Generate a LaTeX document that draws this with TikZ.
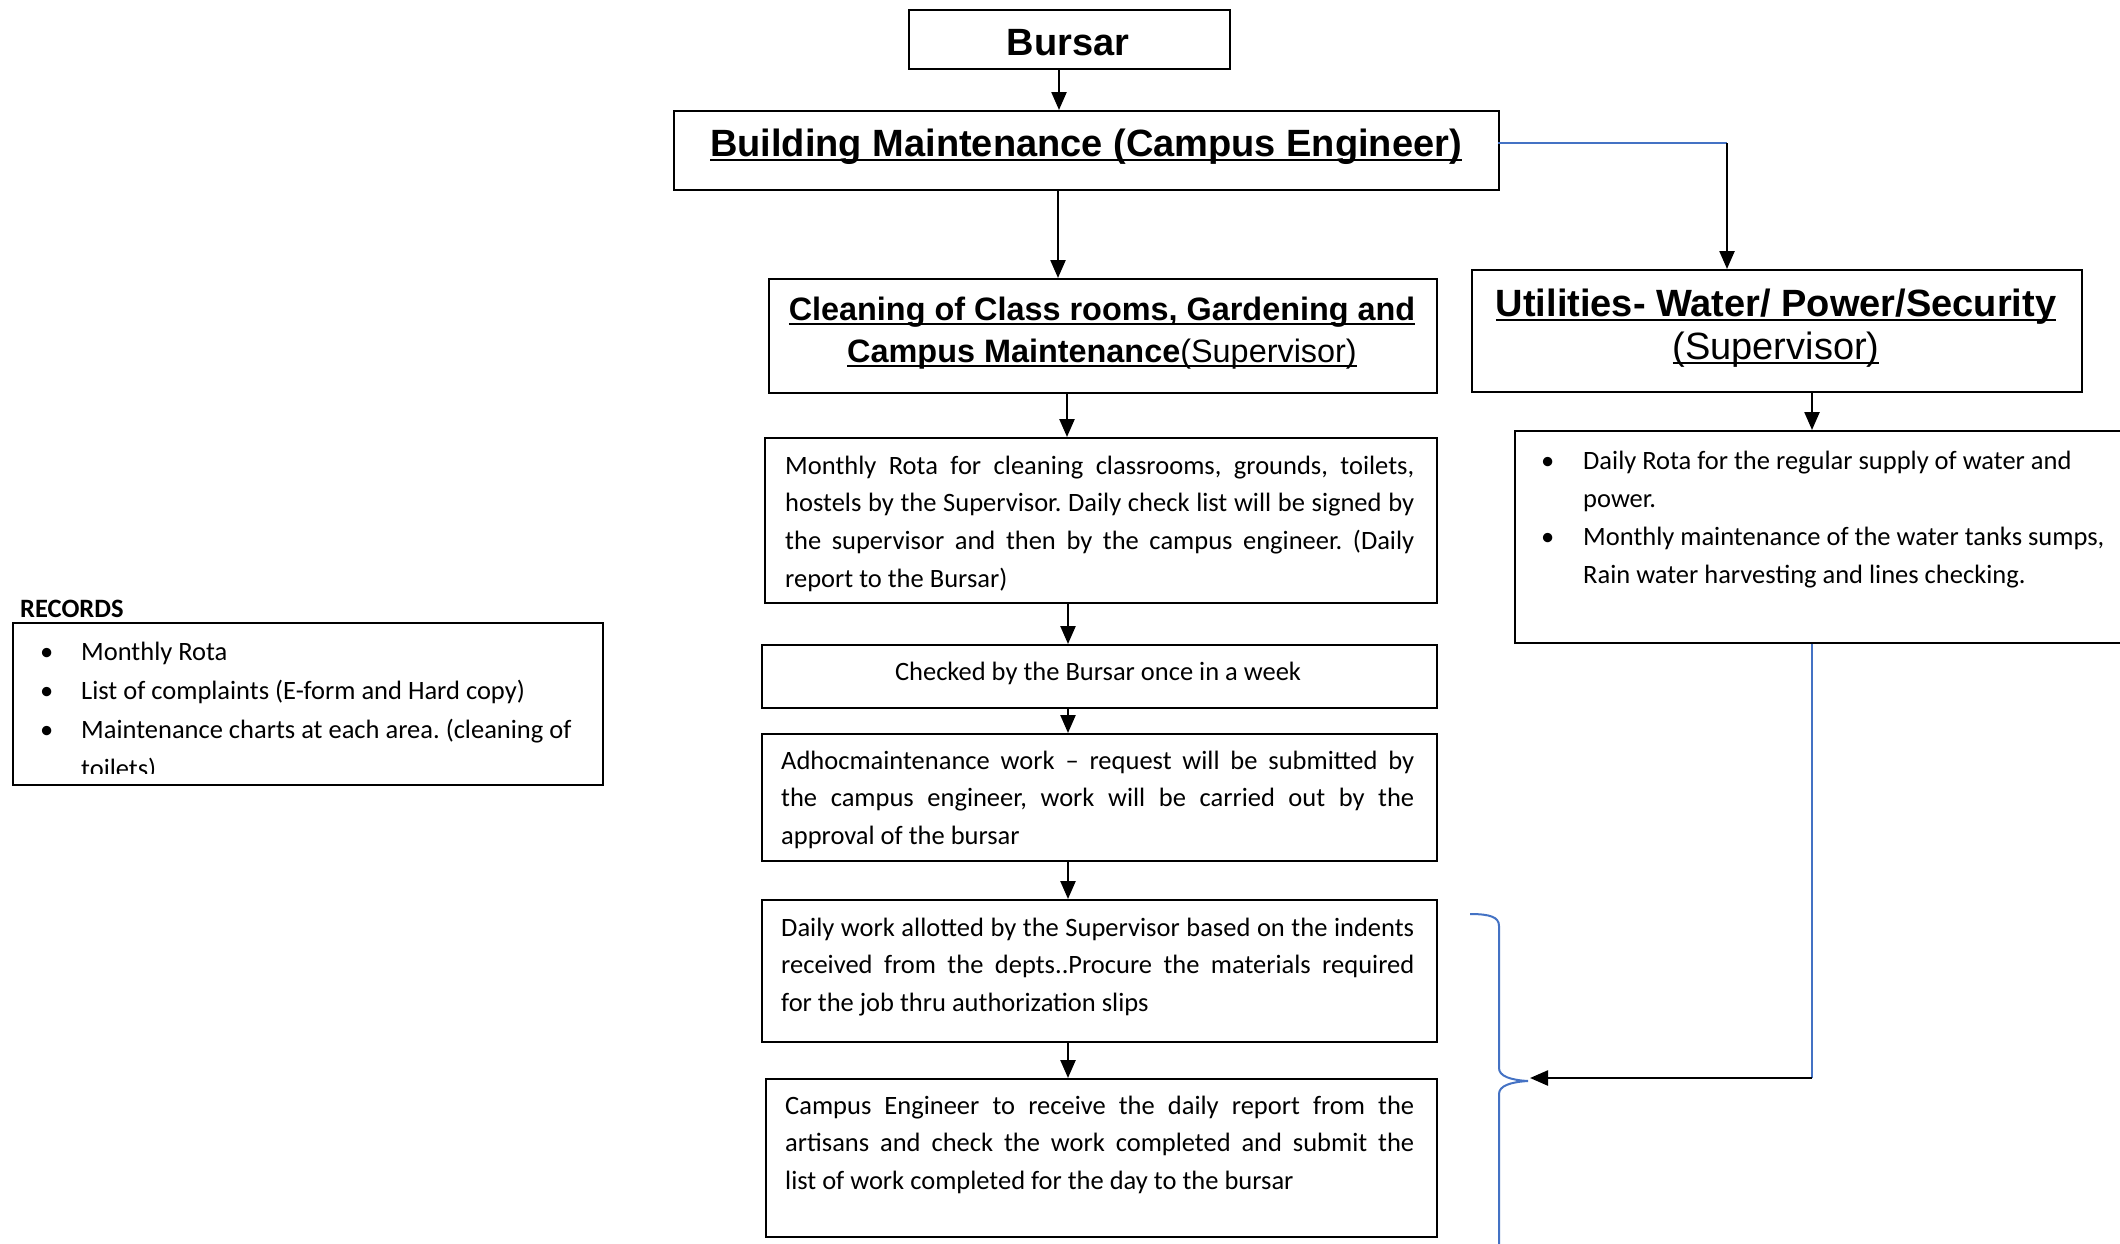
\documentclass[tikz,border=0pt]{standalone}
\usepackage{fontspec}
\setmainfont{Carlito}
\newfontfamily\hdfont{Liberation Sans}
\usetikzlibrary{arrows.meta}
\definecolor{wblue}{RGB}{68,114,196}
\frenchspacing
\newcommand\ns{\spaceskip=0pt\xspaceskip=0pt\relax}
\newcommand\jl[2][629pt]{\makebox[#1][s]{\ns#2}}
\newcommand\hul[1]{\setbox0\hbox{#1}\rlap{\rule[-5pt]{\wd0}{2.4pt}}\box0}
\newcommand\bul{\makebox[42pt][l]{•}}
\tikzset{
  box/.style={draw=black, line width=2.4pt, anchor=north west, inner sep=0pt},
  arr/.style={line width=2.4pt, -{Triangle[length=18pt,width=15pt]}},
  bline/.style={wblue, line width=2pt},
  body/.style={font=\frenchspacing\fontsize{26.5}{37.8}\selectfont, inner sep=0pt, anchor=base west, align=left},
  head/.style={font=\hdfont\bfseries\fontsize{38}{43}\selectfont, inner sep=0pt, anchor=base, align=center},
}
\begin{document}
\begin{tikzpicture}[x=1pt,y=-1pt]
\clip (0,0) rectangle (2120,1243);
\fill[white] (0,0) rectangle (2120,1243);

% boxes
\node[box, minimum width=321pt, minimum height=59pt] (bursar) at (908,9) {};
\node[box, minimum width=825pt, minimum height=79pt] (bm) at (673,110) {};
\node[box, minimum width=668pt, minimum height=114pt] (clean) at (768,278) {};
\node[box, minimum width=610pt, minimum height=122pt] (util) at (1471,269) {};
\node[box, minimum width=672pt, minimum height=165pt] (monthly) at (764,437) {};
\node[box, minimum width=675pt, minimum height=63pt] (checked) at (761,644) {};
\node[box, minimum width=675pt, minimum height=127pt] (adhoc) at (761,733) {};
\node[box, minimum width=675pt, minimum height=142pt] (daily) at (761,899) {};
\node[box, minimum width=671pt, minimum height=158pt] (ce) at (765,1078) {};
\node[box, minimum width=640pt, minimum height=212pt] (urota) at (1514,430) {};
\node[box, minimum width=590pt, minimum height=162pt] (records) at (12,622) {};

% headings
\node[head] (tbursar) at (1068,55) {Bursar};
\node[head] (tbm) at (1086,156) {\hul{Building Maintenance (Campus Engineer)}};
\node[head, font=\hdfont\bfseries\fontsize{32.4}{42}\selectfont] (tclean) at (1102,362)
  {\hul{Cleaning of Class rooms, Gardening and}\\\hul{Campus Maintenance{\mdseries(Supervisor)}}};
\node[head] (tutil) at (1776,359)
  {\hul{Utilities- Water/ Power/Security}\\\hul{\mdseries(Supervisor)}};

% body texts
\node[body, text width=629pt] (tmonthly) at (785,474)
  {\ns\jl{Monthly Rota for cleaning classrooms, grounds, toilets,}\\
   \jl{hostels by the Supervisor. Daily check list will be signed by}\\
   \jl{the supervisor and then by the campus engineer. (Daily}\\
   report to the Bursar)};
\node[body, anchor=base] (tchecked) at (1098,680) {\ns Checked by the Bursar once in a week};
\node[body, text width=633pt] (tadhoc) at (781,769)
  {\ns\jl[633pt]{Adhocmaintenance work – request will be submitted by}\\
   \jl[633pt]{the campus engineer, work will be carried out by the}\\
   approval of the bursar};
\node[body, text width=633pt] (tdaily) at (781,936)
  {\ns\jl[633pt]{Daily work allotted by the Supervisor based on the indents}\\
   \jl[633pt]{received from the depts..Procure the materials required}\\
   for the job thru authorization slips};
\node[body, text width=629pt] (tce) at (785,1114)
  {\ns\jl{Campus Engineer to receive the daily report from the}\\
   \jl{artisans and check the work completed and submit the}\\
   list of work completed for the day to the bursar};
\node[body, text width=570pt, font=\frenchspacing\fontsize{26.5}{38}\selectfont] (turota) at (1541,469)
  {\ns\bul Daily Rota for the regular supply of water and\\
   \hspace*{42pt}power.\\
   \bul Monthly maintenance of the water tanks sumps,\\
   \hspace*{42pt}Rain water harvesting and lines checking.};
\node[body, font=\bfseries\fontsize{26.5}{37.5}\selectfont] (trectitle) at (20,617) {\ns RECORDS};
\begin{scope}
\clip (14,624) rectangle (600,773);
\node[body, text width=555pt, font=\fontsize{26.5}{39}\selectfont] (trecords) at (40,660)
  {\ns\makebox[41pt][l]{•}Monthly Rota\\
   \makebox[41pt][l]{•}List of complaints (E-form and Hard copy)\\
   \makebox[41pt][l]{•}Maintenance charts at each area. (cleaning of\\
   \hspace*{41pt}toilets)};
\end{scope}

% connectors
\coordinate (c1) at (1059,0);
\coordinate (c2) at (1058,0);
\coordinate (c3) at (1067,0);
\coordinate (c4) at (1068,0);
\coordinate (rx) at (1812,0);
\draw[arr] (bursar.south -| c1) -- (bm.north -| c1);
\draw[arr] (bm.south -| c2) -- (clean.north -| c2);
\draw[arr] (clean.south -| c3) -- (monthly.north -| c3);
\draw[arr] (monthly.south -| c4) -- (checked.north -| c4);
\draw[arr] (checked.south -| c4) -- (adhoc.north -| c4);
\draw[arr] (adhoc.south -| c4) -- (daily.north -| c4);
\draw[arr] (daily.south -| c4) -- (ce.north -| c4);

\coordinate (bmR) at (1498,143);
\coordinate (bend) at (1727,143);
\draw[bline] (bmR) -- (bend);
\draw[arr] (bend) -- (bend |- util.north);
\draw[arr] (util.south -| rx) -- (urota.north -| rx);

\coordinate (corner) at (1812,1078);
\coordinate (btip) at (1530,1078);
\draw[bline] (urota.south -| rx) -- (corner);
\draw[arr] (corner) -- (btip);

% brace
\draw[bline] (1470,914) .. controls (1490,914) and (1499,917) .. (1499,926)
  -- (1499,1068) .. controls (1499,1076) and (1510,1080) .. (1528,1081)
  .. controls (1510,1082) and (1499,1086) .. (1499,1094) -- (1499,1260);
\end{tikzpicture}
\end{document}
